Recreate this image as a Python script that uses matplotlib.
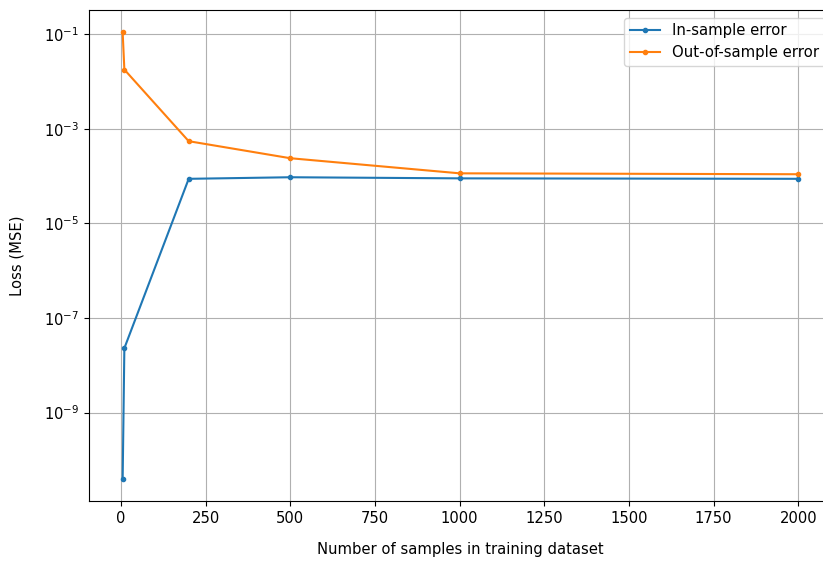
import matplotlib
matplotlib.use("Agg")
import matplotlib.pyplot as plt

plt.rcParams["font.size"] = 10.6

# training set sizes and resulting MSE
n_samples = [5, 10, 200, 500, 1000, 2000]
in_sample_err = [4.0e-11, 2.3e-8, 8.8e-5, 9.5e-5, 9.0e-5, 8.8e-5]
out_sample_err = [0.11, 0.018, 5.5e-4, 2.4e-4, 1.15e-4, 1.1e-4]

fig = plt.figure(figsize=(8.23, 5.61), dpi=100)
ax = fig.add_axes([0.108, 0.107, 0.903, 0.875])

ax.plot(n_samples, in_sample_err, marker=".", label="In-sample error")
ax.plot(n_samples, out_sample_err, marker=".", label="Out-of-sample error")
ax.set_yscale("log")
ax.set_xlabel("Number of samples in training dataset", labelpad=12)
ax.set_ylabel("Loss (MSE)", labelpad=14)
ax.grid(True)
ax.legend(loc="upper right", fontsize=10.7, labelspacing=0.45)

fig.savefig("out.png", dpi=100)
